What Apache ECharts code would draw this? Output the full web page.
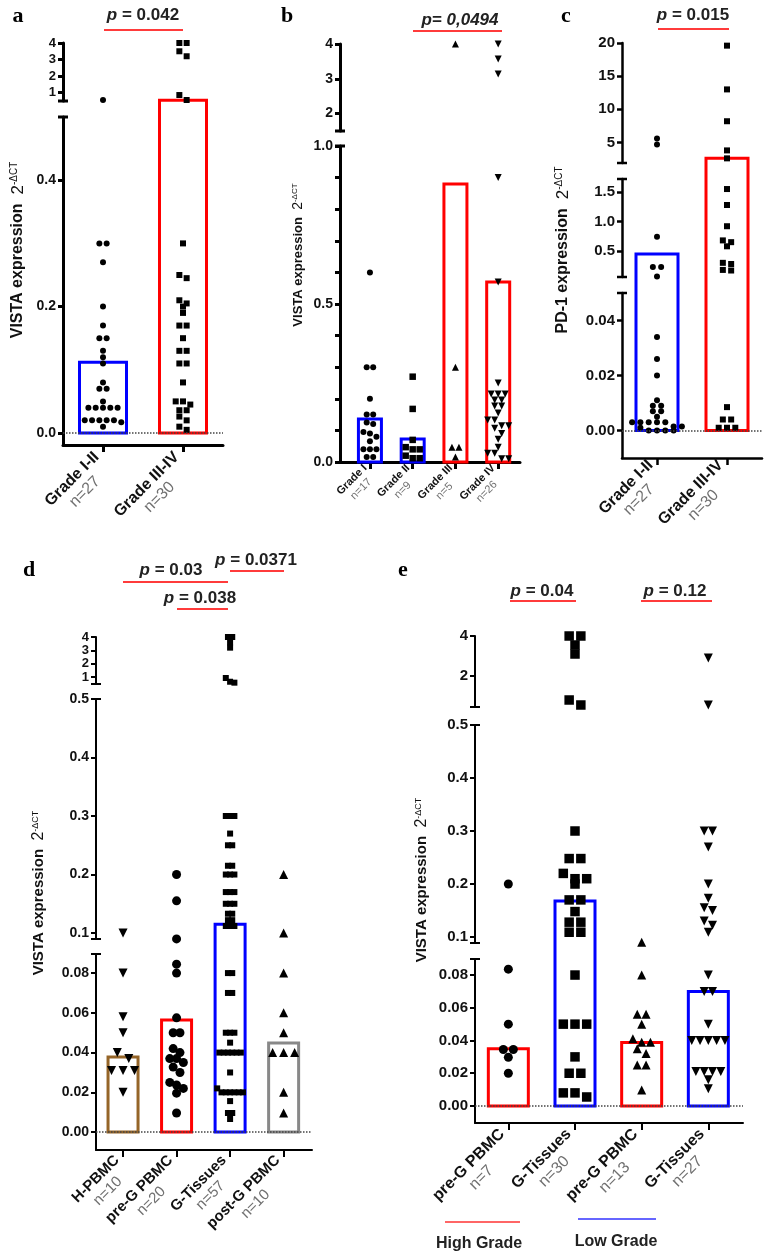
<!DOCTYPE html>
<html><head><meta charset="utf-8">
<script src="https://cdn.jsdelivr.net/npm/echarts@6/dist/echarts.min.js"></script>
<style>html,body{margin:0;padding:0;background:#fff}#c{width:767px;height:1258px}</style>
</head><body><div id="c"></div><script>
const FONT = "'Liberation Sans', Arial, Helvetica, sans-serif";
const SERIF = "'Liberation Serif', 'Times New Roman', serif";

// ================= DATA =================
// Panel a
const aCategories = ['Grade I-II', 'Grade III-IV'];
const aCounts = ['n=27', 'n=30'];
const aBarValues = [0.112, 0.55];
const aGradeI_II = [0.56, 0.30, 0.30, 0.27, 0.20, 0.17, 0.15, 0.15, 0.13, 0.12, 0.11, 0.08, 0.07, 0.07, 0.05,
  0.04, 0.04, 0.04, 0.04, 0.04, 0.02, 0.02, 0.02, 0.02, 0.017, 0.02, 0.01];
const aGradeIII_IV = [4.0, 4.0, 3.5, 3.2, 0.86, 0.56, 0.30, 0.25, 0.245, 0.21, 0.205, 0.20, 0.19, 0.17, 0.17,
  0.15, 0.13, 0.13, 0.11, 0.11, 0.08, 0.05, 0.05, 0.045, 0.036, 0.036, 0.026, 0.02, 0.01, 0.005];
const aTicksUpper = [1, 2, 3, 4];
const aTicksLower = [0, 0.2, 0.4];
const aPText = ['p', ' = 0.042'];

// Panel b
const bCategories = ['Grade I', 'Grade II', 'Grade III', 'Grade IV'];
const bCounts = ['n=17', 'n=9', 'n=5', 'n=26'];
const bBarValues = [0.136, 0.073, 0.88, 0.57];
const bGradeI = [0.60, 0.30, 0.30, 0.20, 0.15, 0.15, 0.125, 0.12, 0.095, 0.09, 0.08, 0.066, 0.04, 0.04, 0.04, 0.016, 0.016];
const bGradeII = [0.27, 0.168, 0.07, 0.047, 0.04, 0.04, 0.02, 0.012, 0.012];
const bGradeIII = [4.0, 0.30, 0.047, 0.047, 0.016];
const bGradeIV = [4.0, 3.57, 3.14, 0.90, 0.57, 0.25, 0.215, 0.215, 0.215, 0.196, 0.196, 0.177, 0.177, 0.155,
  0.133, 0.133, 0.115, 0.115, 0.107, 0.09, 0.072, 0.047, 0.028, 0.028, 0.01, 0.01];
const bTicksUpper = [2, 3, 4];
const bTicksLower = [0, 0.1, 0.2, 0.3, 0.4, 0.5, 0.6, 0.7, 0.8, 0.9, 1.0];
const bLabelsLower = [0, 0.5, 1.0];
const bPText = ['p= 0,0494', ''];

// Panel c
const cCategories = ['Grade I-II', 'Grade III-IV'];
const cCounts = ['n=27', 'n=30'];
const cBarValues = [0.45, 2.6];
const cGradeI_II = [5.6, 4.7, 0.74, 0.23, 0.23, 0.067, 0.034, 0.026, 0.02, 0.011, 0.009, 0.009, 0.007, 0.007,
  0.005, 0.003, 0.003, 0.003, 0.003, 0.003, 0.0015, 0.0015, 0.001, 0, 0, 0, 0];
const cGradeIII_IV = [19.6, 13.0, 8.2, 3.8, 2.6, 1.55, 1.28, 0.92, 0.68, 0.65, 0.58, 0.30, 0.28, 0.18, 0.17,
  0.0085, 0.004, 0.004, 0.001, 0.001, 0.001];
const cTicksTop = [5, 10, 15, 20];
const cTicksMid = [0.5, 1.0, 1.5];
const cTicksLow = [0, 0.02, 0.04];
const cPText = ['p', ' = 0.015'];

// Panel d
const dCategories = ['H-PBMC', 'pre-G PBMC', 'G-Tissues', 'post-G PBMC'];
const dCounts = ['n=10', 'n=20', 'n=57', 'n=10'];
const dBarValues = [0.0378, 0.0564, 0.115, 0.0448];
const dH_PBMC = [0.10, 0.08, 0.058, 0.05, 0.04, 0.037, 0.031, 0.031, 0.031, 0.02];
const dPreG_PBMC = [0.20, 0.155, 0.09, 0.0845, 0.08, 0.0575, 0.05, 0.05, 0.042, 0.04, 0.037, 0.037, 0.035,
  0.0327, 0.03, 0.025, 0.0237, 0.022, 0.0196, 0.0096];
const dG_Tissues = [4.0, 4.0, 3.6, 3.2, 0.92, 0.64, 0.57,
  0.30, 0.30, 0.30, 0.27, 0.25, 0.25, 0.215, 0.215, 0.20, 0.20, 0.20, 0.17, 0.17, 0.17, 0.15, 0.15, 0.15,
  0.133, 0.133, 0.122, 0.122, 0.112, 0.112, 0.112,
  0.08, 0.08, 0.07, 0.07, 0.05, 0.05, 0.05, 0.045, 0.04, 0.04, 0.04, 0.04, 0.04, 0.04, 0.03, 0.022,
  0.02, 0.02, 0.02, 0.02, 0.02, 0.02, 0.0156, 0.0096, 0.0096, 0.0066];
const dPostG_PBMC = [0.20, 0.10, 0.08, 0.06, 0.05, 0.04, 0.04, 0.04, 0.02, 0.0096];
const dTicksTop = [1, 2, 3, 4];
const dTicksMid = [0.1, 0.2, 0.3, 0.4, 0.5];
const dTicksLow = [0, 0.02, 0.04, 0.06, 0.08];
const dPTexts = [['p', ' = 0.03'], ['p', ' = 0.0371'], ['p', ' = 0.038']];

// Panel e
const eCategories = ['pre-G PBMC', 'G-Tissues', 'pre-G PBMC', 'G-Tissues'];
const eCounts = ['n=7', 'n=30', 'n=13', 'n=27'];
const eBarValues = [0.035, 0.168, 0.0388, 0.07];
const ePreG_High = [0.20, 0.0836, 0.05, 0.0345, 0.0345, 0.0297, 0.02];
const eGTissues_High = [4.0, 4.0, 3.55, 3.1, 0.8, 0.55, 0.30, 0.248, 0.248, 0.22, 0.21, 0.21, 0.20, 0.17, 0.17,
  0.148, 0.128, 0.128, 0.109, 0.109, 0.08, 0.05, 0.05, 0.05, 0.03, 0.02, 0.02, 0.008, 0.008, 0.0055];
const ePreG_Low = [0.09, 0.08, 0.056, 0.056, 0.05, 0.041, 0.039, 0.039, 0.035, 0.032, 0.025, 0.025, 0.0097];
const eGTissues_Low = [2.9, 0.55, 0.30, 0.30, 0.27, 0.20, 0.173, 0.155, 0.15, 0.13, 0.122, 0.109,
  0.08, 0.07, 0.07, 0.05, 0.04, 0.04, 0.04, 0.04, 0.04, 0.021, 0.021, 0.021, 0.021, 0.016, 0.0105];
const eTicksTop = [2, 4];
const eTicksMid = [0.1, 0.2, 0.3, 0.4, 0.5];
const eTicksLow = [0, 0.02, 0.04, 0.06, 0.08];
const ePTexts = [['p', ' = 0.04'], ['p', ' = 0.12']];
const eGroupLabels = ['High Grade', 'Low Grade'];

const yTitleVista = 'VISTA expression';
const yTitlePD1 = 'PD-1 expression';

// ================= LAYOUT =================
const RED = '#ff0000', BLUE = '#0000ff', BROWN = '#956528', GRAY = '#888888';
const panels = [
  {
    letter: 'a', letterPos: [18, 16], axisX: 63, right: 223, xMin: -0.5, xMax: 1.5, axisW: 3,
    tickFont: 14, catFont: 16, catMargin: 16,
    segs: [
      { min: 0.5, max: 4, top: 43, bottom: 101, ticks: aTicksUpper, labels: aTicksUpper, dec: 0, font: 13 },
      { min: -0.019, max: 0.5, top: 117, bottom: 445, ticks: aTicksLower, labels: aTicksLower, dec: 1, zero: true }
    ],
    cats: aCategories, counts: aCounts, bars: aBarValues, barColors: [BLUE, RED], barW: 47, barLW: 3,
    groups: [
      { data: aGradeI_II, symbol: 'circle', size: 6, sp: 7.3 },
      { data: aGradeIII_IV, symbol: 'rect', size: 6, sp: 7.3 }
    ],
    yTitle: { text: yTitleVista, x: 18, y: 250, size: 16 },
    pvals: [{ t: aPText, x: 143, y: 15, line: [104, 183, 30] }]
  },
  {
    letter: 'b', letterPos: [287, 16], axisX: 340, right: 520, xMin: -0.70, xMax: 3.51, axisW: 3,
    tickFont: 14, catFont: 11, catMargin: 9,
    segs: [
      { min: 1.5, max: 4, top: 44, bottom: 131, ticks: bTicksUpper, labels: bTicksUpper, dec: 0 },
      { min: 0, max: 1, top: 146, bottom: 462, ticks: bTicksLower, labels: bLabelsLower, dec: 1 }
    ],
    cats: bCategories, counts: bCounts, bars: bBarValues, barColors: [BLUE, BLUE, RED, RED], barW: 23, barLW: 3,
    groups: [
      { data: bGradeI, symbol: 'circle', size: 6, sp: 6.5 },
      { data: bGradeII, symbol: 'rect', size: 6.5, sp: 7 },
      { data: bGradeIII, symbol: 'triangle', size: 7, sp: 7 },
      { data: bGradeIV, symbol: 'triangle', rot: 180, size: 7, sp: 7 }
    ],
    yTitle: { text: yTitleVista, x: 298, y: 255, size: 13 },
    pvals: [{ t: bPText, x: 460, y: 20, line: [413, 502, 31], allItalic: true }]
  },
  {
    letter: 'c', letterPos: [566, 16], axisX: 622, right: 762, xMin: -0.5, xMax: 1.5, axisW: 2.5,
    tickFont: 15, catFont: 16, catMargin: 11,
    segs: [
      { min: 1.9, max: 20, top: 43, bottom: 163, ticks: cTicksTop, labels: cTicksTop, dec: 0 },
      { min: 0.06, max: 1.72, top: 179, bottom: 277, ticks: cTicksMid, labels: cTicksMid, dec: 1 },
      { min: -0.01, max: 0.05, top: 293, bottom: 458, ticks: cTicksLow, labels: cTicksLow, dec: 2, zero: true }
    ],
    cats: cCategories, counts: cCounts, bars: cBarValues, barColors: [BLUE, RED], barW: 42, barLW: 3,
    groups: [
      { data: cGradeI_II, symbol: 'circle', size: 6, sp: 8.3 },
      { data: cGradeIII_IV, symbol: 'rect', size: 6, sp: 8.3 }
    ],
    yTitle: { text: yTitlePD1, x: 563, y: 250, size: 16 },
    pvals: [{ t: cPText, x: 693, y: 15, line: [658, 729, 29] }]
  },
  {
    letter: 'd', letterPos: [29, 570], axisX: 96, right: 312, xMin: -0.505, xMax: 3.53, axisW: 2,
    tickFont: 14, catFont: 15, catMargin: 14,
    segs: [
      { min: 0.47, max: 4, top: 637, bottom: 684, ticks: dTicksTop, labels: dTicksTop, dec: 0, font: 13 },
      { min: 0.0898, max: 0.5, top: 699, bottom: 939, ticks: dTicksMid, labels: dTicksMid, dec: 1 },
      { min: -0.009, max: 0.0896, top: 954, bottom: 1150, ticks: dTicksLow, labels: dTicksLow, dec: 2, zero: true }
    ],
    cats: dCategories, counts: dCounts, bars: dBarValues, barColors: [BROWN, RED, BLUE, GRAY], barW: 30, barLW: 3,
    groups: [
      { data: dH_PBMC, symbol: 'triangle', rot: 180, size: 9, sp: 11.5 },
      { data: dPreG_PBMC, symbol: 'circle', size: 9, sp: 6.8 },
      { data: dG_Tissues, symbol: 'rect', size: 6, sp: 4.3 },
      { data: dPostG_PBMC, symbol: 'triangle', size: 9, sp: 11 }
    ],
    yTitle: { text: yTitleVista, x: 39, y: 893, size: 15 },
    pvals: [
      { t: dPTexts[0], x: 171, y: 570, line: [123, 228, 582] },
      { t: dPTexts[1], x: 256, y: 560, line: [230, 284, 571] },
      { t: dPTexts[2], x: 200, y: 598, line: [177, 228, 609] }
    ]
  },
  {
    letter: 'e', letterPos: [403, 570], axisX: 475, right: 743, xMin: -0.5, xMax: 3.52, axisW: 2,
    tickFont: 15, catFont: 16, catMargin: 15,
    segs: [
      { min: 0.45, max: 4, top: 636, bottom: 707, ticks: eTicksTop, labels: eTicksTop, dec: 0 },
      { min: 0.0887, max: 0.5, top: 725, bottom: 943, ticks: eTicksMid, labels: eTicksMid, dec: 1 },
      { min: -0.0104, max: 0.0898, top: 959, bottom: 1123, ticks: eTicksLow, labels: eTicksLow, dec: 2, zero: true }
    ],
    cats: eCategories, counts: eCounts, bars: eBarValues, barColors: [RED, BLUE, RED, BLUE], barW: 40, barLW: 3,
    groups: [
      { data: ePreG_High, symbol: 'circle', size: 9, sp: 10 },
      { data: eGTissues_High, symbol: 'rect', size: 9.5, sp: 11.7 },
      { data: ePreG_Low, symbol: 'triangle', size: 9, sp: 8.8 },
      { data: eGTissues_Low, symbol: 'triangle', rot: 180, size: 9, sp: 8.3 }
    ],
    yTitle: { text: yTitleVista, x: 422, y: 880, size: 15 },
    pvals: [
      { t: ePTexts[0], x: 542, y: 591, line: [510, 576, 601] },
      { t: ePTexts[1], x: 675, y: 591, line: [641, 712, 601] }
    ],
    groupLabels: [
      { t: eGroupLabels[0], x: 479, y: 1244, line: [445, 520, 1222], color: '#ff3333' },
      { t: eGroupLabels[1], x: 616, y: 1242, line: [578, 656, 1219], color: '#3333ff' }
    ]
  }
];

// ================= HELPERS =================
function swarm(values, toPx, size, spacing) {
  const pts = values.map((v, i) => ({ i, y: toPx(v) })).filter(p => p.y != null);
  pts.sort((a, b) => a.y - b.y);
  const rows = [];
  pts.forEach(p => {
    const row = rows[rows.length - 1];
    if (row && p.y - row[0].y < size * 0.85) row.push(p); else rows.push([p]);
  });
  const off = values.map(() => 0);
  rows.forEach(row => row.forEach((p, k) => { off[p.i] = (k - (row.length - 1) / 2) * spacing; }));
  return off;
}

function makeBarRenderer(p, ext) {
  return function (params, api) {
    const i = api.value(0), v = api.value(1);
    const cs = params.coordSys;
    const c0 = api.coord([i, 0]), c1 = api.coord([i, v]);
    const gTop = cs.y, gBot = cs.y + cs.height;
    if (c1[1] > gBot + 0.5) return null;
    const half = p.barW / 2;
    const xl = c0[0] - half, xr = c0[0] + half;
    const topIn = c1[1] >= gTop - 0.5;
    const botIn = c0[1] <= gBot + 0.5;
    const yT = topIn ? c1[1] : gTop;
    const yB = botIn ? c0[1] : gBot + ext;
    const style = { stroke: p.barColors[i], lineWidth: p.barLW, fill: null, lineJoin: 'miter' };
    const children = [];
    if (topIn && botIn) {
      children.push({ type: 'polygon', shape: { points: [[xl, yB], [xl, yT], [xr, yT], [xr, yB]] }, style });
    } else if (topIn) {
      children.push({ type: 'polyline', shape: { points: [[xl, yB], [xl, yT], [xr, yT], [xr, yB]] }, style });
    } else if (botIn) {
      children.push({ type: 'polyline', shape: { points: [[xl, yT], [xl, yB], [xr, yB], [xr, yT]] }, style });
    } else {
      children.push({ type: 'line', shape: { x1: xl, y1: yT, x2: xl, y2: yB }, style });
      children.push({ type: 'line', shape: { x1: xr, y1: yT, x2: xr, y2: yB }, style });
    }
    return { type: 'group', children };
  };
}

// ================= BUILD =================
const grid = [], xAxis = [], yAxis = [], series = [], graphics = [];

panels.forEach(p => {
  const bandPx = (p.right - p.axisX) / (p.xMax - p.xMin);
  const inSeg = (s, v) => v >= s.min - 1e-9 && v <= s.max + 1e-9;
  const toPx = v => {
    for (const s of p.segs) if (inSeg(s, v)) return s.top + (s.max - v) / (s.max - s.min) * (s.bottom - s.top);
    return null;
  };
  const offsets = p.groups.map(g => swarm(g.data, toPx, g.size, g.sp).map(o => o / bandPx));
  const catIdx = p.cats.map((_, i) => i);

  p.segs.forEach((s, si) => {
    const gi = grid.length;
    const isTop = si === 0, isBottom = si === p.segs.length - 1;
    grid.push({ left: p.axisX, top: s.top, width: p.right - p.axisX, height: s.bottom - s.top,
      containLabel: false, outerBoundsMode: 'none' });
    if (isBottom) {
      xAxis.push({
        type: 'value', gridIndex: gi, min: p.xMin, max: p.xMax,
        axisLine: { show: true, onZero: false, lineStyle: { color: '#000', width: p.axisW } },
        axisTick: { show: true, customValues: catIdx, length: 7, lineStyle: { color: '#000', width: p.axisW } },
        splitLine: { show: false },
        axisLabel: {
          customValues: catIdx, rotate: 45, margin: p.catMargin, interval: 0,
          formatter: v => { const k = Math.round(v); return '{b|' + p.cats[k] + '}\n{n|' + p.counts[k] + '}'; },
          rich: {
            b: { fontFamily: FONT, fontWeight: 'bold', fontSize: p.catFont, color: '#111', align: 'center', lineHeight: p.catFont + 2 },
            n: { fontFamily: FONT, fontSize: p.catFont, color: '#707070', align: 'center', lineHeight: p.catFont + 2 }
          }
        }
      });
    } else {
      xAxis.push({ type: 'value', gridIndex: gi, min: p.xMin, max: p.xMax, show: false });
    }
    yAxis.push({
      type: 'value', gridIndex: gi, min: s.min, max: s.max, position: 'left',
      axisLine: { show: true, onZero: false, symbol: [isBottom ? 'none' : 'rect', isTop ? 'none' : 'rect'],
        symbolSize: [10, p.axisW], lineStyle: { color: '#000', width: p.axisW } },
      axisTick: { show: true, customValues: s.ticks, length: 5, lineStyle: { color: '#000', width: p.axisW } },
      splitLine: { show: false },
      axisLabel: { customValues: s.labels, formatter: v => Number(v).toFixed(s.dec), margin: 7,
        fontFamily: FONT, fontWeight: 'bold', fontSize: s.font || p.tickFont, color: '#111' }
    });
    if (s.zero) {
      series.push({ type: 'scatter', xAxisIndex: gi, yAxisIndex: gi, data: [], silent: true, z: 1,
        markLine: { silent: true, symbol: ['none', 'none'], label: { show: false }, animation: false,
          lineStyle: { type: 'dotted', color: '#444', width: 1.5 }, data: [{ yAxis: 0 }] } });
    }
    const ext = isBottom ? 0 : p.segs[si + 1].top - s.bottom;
    series.push({ type: 'custom', xAxisIndex: gi, yAxisIndex: gi, clip: false, z: 2, silent: true,
      data: p.bars.map((v, i) => [i, v]), encode: { x: 0, y: 1 }, renderItem: makeBarRenderer(p, ext) });
    p.groups.forEach((g, k) => {
      const pts = [];
      g.data.forEach((v, j) => { if (inSeg(s, v)) pts.push([k + offsets[k][j], v]); });
      series.push({ type: 'scatter', xAxisIndex: gi, yAxisIndex: gi, data: pts, symbol: g.symbol,
        symbolSize: g.size, symbolRotate: g.rot || 0, itemStyle: { color: '#000', opacity: 1 },
        z: 3, silent: true, clip: false });
    });
  });

  // annotations
  graphics.push({ type: 'text', x: p.letterPos[0], y: p.letterPos[1],
    style: { text: p.letter, font: 'bold 22px ' + SERIF, fill: '#000', textAlign: 'center', textVerticalAlign: 'middle' } });
  graphics.push({ type: 'text', x: p.yTitle.x, y: p.yTitle.y, rotation: Math.PI / 2,
    style: { text: '{t|' + p.yTitle.text + '  }{n|2}{s|-ΔCT}', textAlign: 'center', textVerticalAlign: 'middle',
      rich: {
        t: { fontFamily: FONT, fontWeight: 'bold', fontSize: p.yTitle.size, fill: '#111' },
        n: { fontFamily: FONT, fontSize: p.yTitle.size + 1, fill: '#111' },
        s: { fontFamily: FONT, fontSize: Math.round(p.yTitle.size * 0.6), fill: '#111', verticalAlign: 'top' }
      } } });
  p.pvals.forEach(pv => {
    const txt = pv.allItalic ? '{i|' + pv.t[0] + '}' : '{i|' + pv.t[0] + '}{r|' + pv.t[1] + '}';
    graphics.push({ type: 'text', x: pv.x, y: pv.y,
      style: { text: txt, textAlign: 'center', textVerticalAlign: 'middle',
        rich: {
          i: { fontFamily: FONT, fontWeight: 'bold', fontStyle: 'italic', fontSize: 17, fill: '#222' },
          r: { fontFamily: FONT, fontWeight: 'bold', fontSize: 17, fill: '#222' }
        } } });
    graphics.push({ type: 'line', shape: { x1: pv.line[0], y1: pv.line[2], x2: pv.line[1], y2: pv.line[2] },
      style: { stroke: '#ff3b3b', lineWidth: 2 } });
  });
  (p.groupLabels || []).forEach(gl => {
    graphics.push({ type: 'line', shape: { x1: gl.line[0], y1: gl.line[2], x2: gl.line[1], y2: gl.line[2] },
      style: { stroke: gl.color, lineWidth: 1.5 } });
    graphics.push({ type: 'text', x: gl.x, y: gl.y,
      style: { text: gl.t, font: 'bold 16px ' + FONT, fill: '#222', textAlign: 'center', textVerticalAlign: 'middle' } });
  });
});

const chart = echarts.init(document.getElementById('c'), null, { renderer: 'canvas', width: 767, height: 1258 });
chart.setOption({
  backgroundColor: '#ffffff',
  animation: false,
  grid, xAxis, yAxis, series,
  graphic: { elements: graphics }
});
</script></body></html>
